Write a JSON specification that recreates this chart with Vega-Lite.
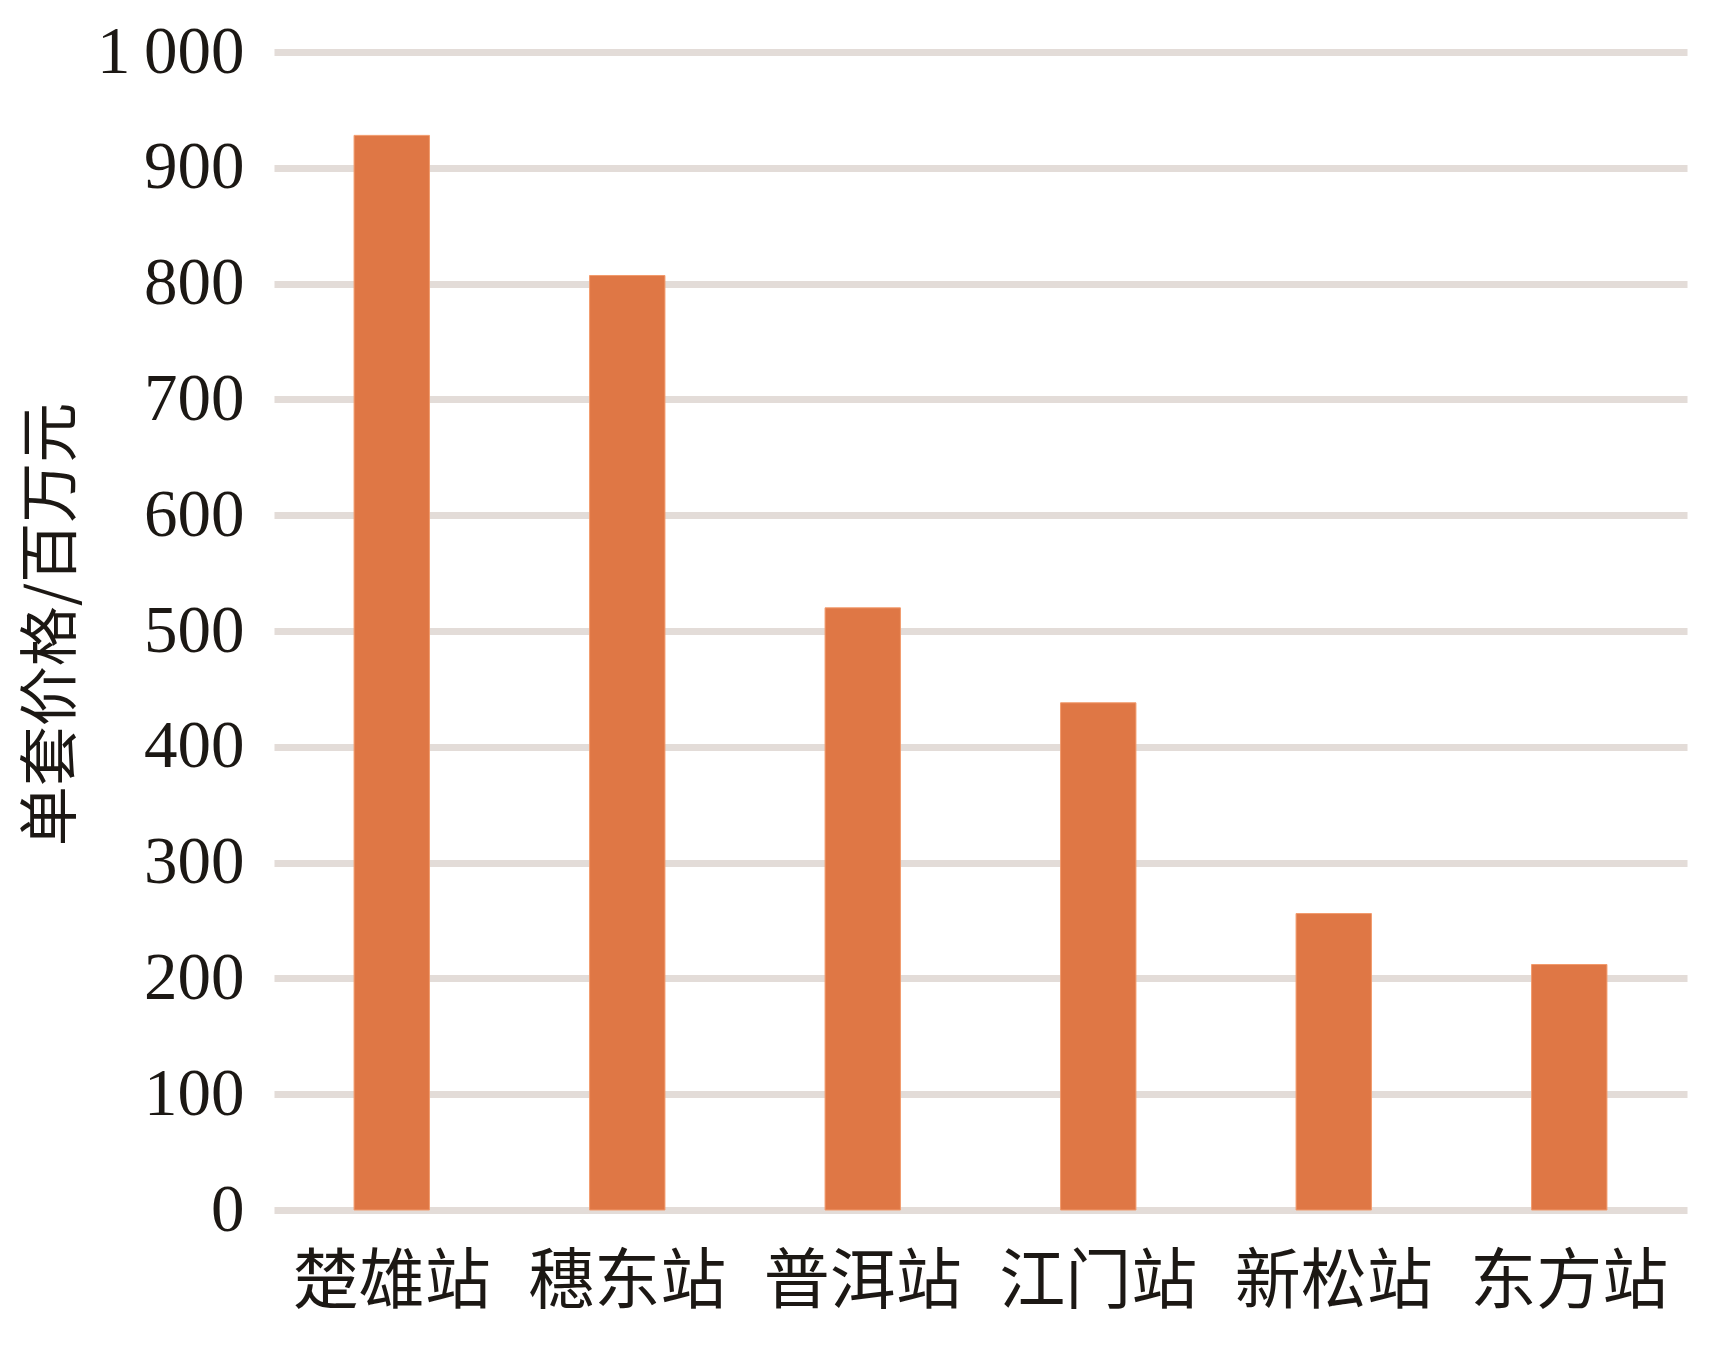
{
  "$schema": "https://vega.github.io/schema/vega-lite/v6.json",
  "autosize": {"type": "none"},
  "width": 1413,
  "height": 1158,
  "padding": {"left": 274, "top": 52, "right": 33, "bottom": 141},
  "background": "white",
  "data": {
    "values": [
      {"station": "楚雄站", "price": 928},
      {"station": "穗东站", "price": 807},
      {"station": "普洱站", "price": 520},
      {"station": "江门站", "price": 438},
      {"station": "新松站", "price": 256},
      {"station": "东方站", "price": 212}
    ]
  },
  "config": {
    "view": {"stroke": null}
  },
  "mark": {"type": "bar", "color": "#df7745", "stroke": "#f29a6c", "strokeWidth": 1},
  "encoding": {
    "x": {
      "field": "station",
      "type": "nominal",
      "sort": null,
      "scale": {"paddingInner": 0.68, "paddingOuter": 0.34},
      "axis": {
        "title": null,
        "domain": false,
        "ticks": false,
        "labelAngle": 0,
        "labelLimit": 0,
        "labelFont": "Noto Sans CJK SC",
        "labelFontSize": 66,
        "labelColor": "#1c1814",
        "labelPadding": 40,
        "labelBaseline": "top"
      }
    },
    "y": {
      "field": "price",
      "type": "quantitative",
      "scale": {"domain": [0, 1000], "nice": false},
      "axis": {
        "title": "单套价格/百万元",
        "titleFont": "Noto Sans CJK SC",
        "titleFontSize": 60,
        "titleFontWeight": "normal",
        "titleColor": "#1c1814",
        "titleX": -222,
        "titleY": 572,
        "titleBaseline": "middle",
        "titleLimit": 0,
        "values": [0, 100, 200, 300, 400, 500, 600, 700, 800, 900, 1000],
        "labelExpr": "replace(format(datum.value, ','), ',', '\u2009')",
        "labelFont": "Liberation Serif",
        "labelFontSize": 67,
        "labelColor": "#1c1814",
        "labelPadding": 30,
        "domain": false,
        "ticks": false,
        "grid": true,
        "gridColor": "#e3dcd8",
        "gridWidth": 7
      }
    }
  }
}
